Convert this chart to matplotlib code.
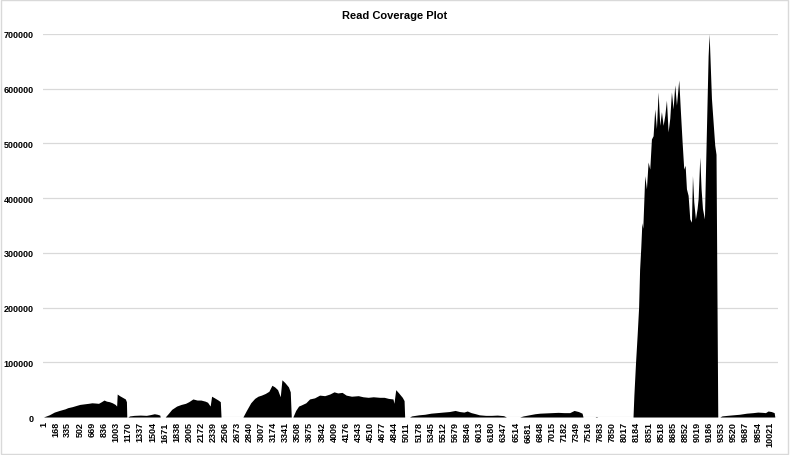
import matplotlib
matplotlib.use("Agg")
import matplotlib.pyplot as plt
from matplotlib.patches import Rectangle

# read positions (genome coordinate) and coverage depth, segment by segment
seg1_pos = [1, 30, 80, 150, 220, 300, 335, 400, 450, 502, 560, 620, 669, 720, 760, 800, 836, 870, 910, 950, 990, 1010, 1018, 1050, 1090, 1130, 1145, 1150]
seg1_cov = [0, 1500, 4000, 9000, 12000, 15000, 17000, 19000, 21000, 23000, 24000, 25000, 26000, 25500, 25000, 28000, 31000, 29000, 28000, 26000, 23000, 20000, 42000, 39000, 36000, 33000, 28000, 0]

seg2_pos = [1165, 1190, 1250, 1337, 1420, 1480, 1530, 1570, 1605, 1611]
seg2_cov = [0, 2000, 3000, 3500, 3000, 4500, 6000, 5000, 3500, 0]

seg3_pos = [1680, 1720, 1770, 1838, 1900, 1960, 2005, 2062, 2120, 2172, 2230, 2264, 2300, 2320, 2360, 2410, 2440, 2450]
seg3_cov = [0, 6000, 14000, 20000, 23000, 25000, 28000, 33000, 31000, 31000, 29000, 27000, 20000, 38000, 35000, 31000, 28000, 0]

seg4_pos = [2752, 2800, 2860, 2914, 2960, 3007, 3060, 3110, 3152, 3190, 3230, 3267, 3290, 3330, 3380, 3405, 3419]
seg4_cov = [0, 12000, 26000, 34000, 38000, 40000, 43000, 47000, 58000, 55000, 50000, 37000, 68000, 63000, 55000, 46000, 0]

seg5_pos = [3441, 3480, 3520, 3556, 3620, 3672, 3740, 3810, 3880, 3950, 4009, 4060, 4120, 4176, 4250, 4343, 4408, 4480, 4550, 4638, 4700, 4760, 4822, 4835, 4860, 4900, 4950, 4975, 4983]
seg5_cov = [0, 12000, 20000, 22000, 26000, 33000, 35000, 40000, 39000, 42000, 46000, 44000, 45000, 40000, 38000, 39000, 37000, 36000, 37000, 36000, 36000, 34000, 33000, 25000, 50000, 44000, 36000, 30000, 0]

seg6_pos = [5050, 5080, 5178, 5260, 5345, 5430, 5512, 5600, 5679, 5740, 5800, 5846, 5900, 5960, 6013, 6100, 6180, 6260, 6347, 6386]
seg6_cov = [0, 2000, 4000, 5000, 7000, 8000, 9000, 10000, 12000, 10000, 9000, 11000, 8000, 6000, 4000, 3000, 3000, 3500, 2500, 0]

seg7_pos = [6570, 6620, 6700, 6781, 6848, 6930, 7015, 7100, 7182, 7260, 7320, 7380, 7430, 7443, 7610, 7628, 7645]
seg7_cov = [0, 2000, 4000, 6000, 7000, 7500, 8000, 8500, 8000, 8000, 12000, 10000, 7000, 0, 0, 1000, 0]

seg8_pos = [8133, 8145, 8168, 8190, 8210, 8224, 8240, 8255, 8268, 8295, 8318, 8341, 8364, 8387, 8410, 8433, 8456, 8479, 8502,
            8525, 8548, 8571, 8594, 8617, 8640, 8663, 8686, 8709, 8732, 8764, 8787, 8810, 8833, 8852, 8870, 8893, 8916, 8939,
            8953, 8971, 8994, 9017, 9031, 9054, 9072, 9091, 9118, 9146, 9169, 9183, 9215, 9260, 9278, 9302]
seg8_cov = [0, 40000, 100000, 150000, 200000, 270000, 310000, 355000, 345000, 441000, 417000, 466000, 453000, 508000, 514000,
            563000, 527000, 594000, 533000, 558000, 533000, 551000, 579000, 521000, 546000, 594000, 563000, 607000, 570000,
            616000, 558000, 503000, 453000, 460000, 417000, 405000, 362000, 356000, 441000, 393000, 362000, 381000, 399000,
            475000, 417000, 381000, 362000, 527000, 660000, 700000, 582000, 497000, 480000, 0]

seg9_pos = [9330, 9360, 9430, 9513, 9600, 9700, 9789, 9854, 9920, 9960, 9996, 10040, 10080, 10089]
seg9_cov = [0, 2000, 3000, 4000, 5000, 7000, 8000, 9000, 8500, 8000, 11000, 10000, 8000, 0]

last_pos = 10135
tick_labels = [str(p) for p in range(1, 10022, 167)]

pos = seg1_pos + seg2_pos + seg3_pos + seg4_pos + seg5_pos + seg6_pos + seg7_pos + seg8_pos + seg9_pos
cov = seg1_cov + seg2_cov + seg3_cov + seg4_cov + seg5_cov + seg6_cov + seg7_cov + seg8_cov + seg9_cov

plt.rcParams['font.family'] = ['Liberation Sans', 'DejaVu Sans']

fig = plt.figure(figsize=(7.9, 4.56), dpi=100)
ax = fig.add_axes([0.055, 0.0833, 0.93, 0.84])

ax.fill_between(pos, cov, 0, color='black', linewidth=0)

ax.set_xlim(0.5, last_pos)
ax.set_ylim(0, 700000)
ax.set_yticks(range(0, 700001, 100000))
ax.set_xticks([int(t) for t in tick_labels])
ax.set_xticklabels(tick_labels, rotation=90, fontsize=6.5, fontweight='bold')
for lab in ax.get_yticklabels():
    lab.set_fontsize(6.5)
    lab.set_fontweight('bold')
ax.tick_params(axis='both', length=0)
ax.tick_params(axis='x', pad=3)
ax.tick_params(axis='y', pad=7)

ax.grid(axis='y', color='#d9d9d9', linewidth=0.9)
ax.set_axisbelow(True)
for s in ax.spines.values():
    s.set_visible(False)

fig.suptitle("Read Coverage Plot", fontsize=8, fontweight='bold', y=0.975)

# light chart border
fig.patches.append(Rectangle((0.001, 0.002), 0.997, 0.996, transform=fig.transFigure,
                             fill=False, edgecolor='#d9d9d9', linewidth=1))

fig.savefig("out.png", dpi=100)
